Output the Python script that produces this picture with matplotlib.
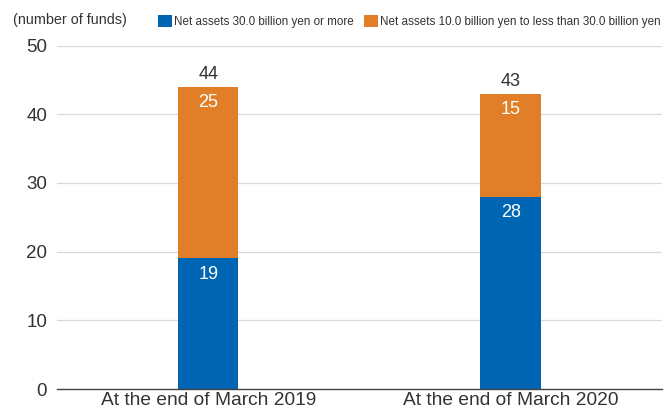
import numpy as np
import matplotlib.pyplot as plt

plt.rcParams['font.family'] = ['Liberation Sans', 'DejaVu Sans']

# data
categories = ['At the end of March 2019', 'At the end of March 2020']
large = [19, 28]
mid = [25, 15]
totals = [44, 43]
legend_labels = ['Net assets 30.0 billion yen or more',
                 'Net assets 10.0 billion yen to less than 30.0 billion yen']

blue = '#0066b3'
orange = '#e07f27'
txt = '#333333'

fig = plt.figure(figsize=(6.64, 4.13), dpi=100)
ax = fig.add_axes([0.0858, 0.0581, 0.911, 0.8317])

x = np.arange(len(categories))
w = 0.2
b1 = ax.bar(x, large, w, color=blue, zorder=3)
b2 = ax.bar(x, mid, w, bottom=large, color=orange, zorder=3)

for i in range(len(x)):
    ax.text(x[i], large[i] - 2.35, str(large[i]), ha='center', va='center',
            color='white', fontsize=13)
    ax.text(x[i], large[i] + mid[i] - 2.35, str(mid[i]), ha='center', va='center',
            color='white', fontsize=13)
    ax.text(x[i], totals[i] + 1.1, str(totals[i]), ha='center', va='baseline',
            color=txt, fontsize=13)

ax.set_xlim(-0.5, 1.5)
ax.set_ylim(0, 50)
ax.set_yticks(range(0, 51, 10))
ax.set_xticks(x)
ax.set_xticklabels(categories, fontsize=13.8)
ax.tick_params(axis='both', length=0, colors=txt)
ax.tick_params(axis='y', pad=7, labelsize=13.5)
ax.tick_params(axis='x', pad=2)
ax.grid(axis='y', color='#d9d9d9', linewidth=0.9, zorder=0)
for s in ['left', 'right', 'top']:
    ax.spines[s].set_visible(False)
ax.spines['bottom'].set_color('#444444')
ax.spines['bottom'].set_linewidth(1.0)
ax.spines['bottom'].set_zorder(4)

fig.text(0.0196, 0.9516, '(number of funds)', fontsize=10.4, color=txt, va='center')
ax.legend([b1, b2], legend_labels, loc='center left', bbox_to_anchor=(0.167, 1.071),
          ncol=2, frameon=False, handlelength=1.22, handleheight=1.22,
          handletextpad=0.15, columnspacing=0.9, labelcolor=txt, borderaxespad=0,
          borderpad=0, fontsize=8.35)

fig.savefig('out.png', dpi=100)
